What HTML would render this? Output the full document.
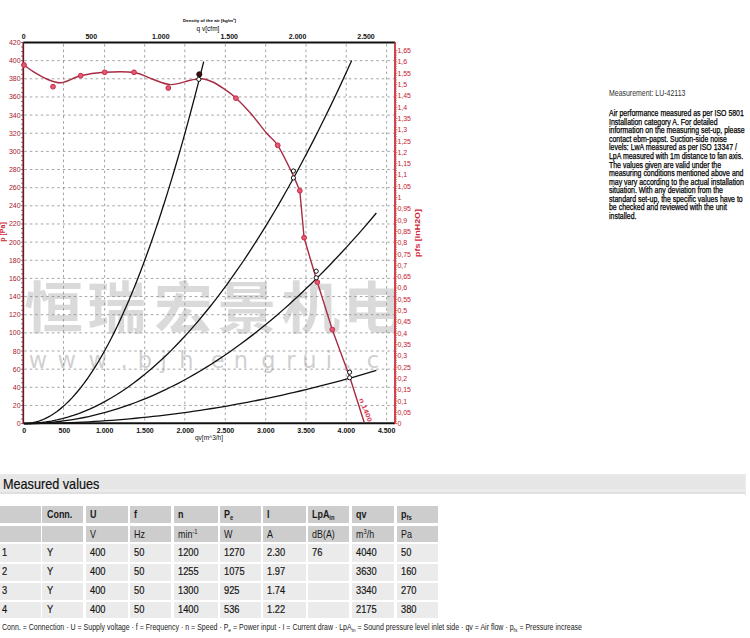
<!DOCTYPE html>
<html><head><meta charset="utf-8"><style>
html,body{margin:0;padding:0;background:#fff;}
body{width:750px;height:638px;position:relative;overflow:hidden;font-family:"Liberation Sans",Arial,sans-serif;}
svg{position:absolute;left:0;top:0;}
.rt{position:absolute;left:608.5px;top:89px;font-size:8.4px;line-height:8.52px;color:#000;-webkit-text-stroke:0.25px #000;white-space:nowrap;transform:scaleX(0.83);transform-origin:0 0;}
.rt .m{color:#333;-webkit-text-stroke:0;margin-bottom:11.9px;}
.band{position:absolute;left:0;top:474px;width:745px;height:20.4px;background:linear-gradient(#ececec 0,#e7e7e7 8%,#e6e6e6 76%,#ebebeb 77%,#ebebeb 88%,#e0e0e0 89%,#e0e0e0 100%);}
.band span{position:absolute;left:2.5px;top:1.7px;font-size:14.8px;color:#111;-webkit-text-stroke:0.2px #111;transform:scaleX(0.855);transform-origin:0 0;}
.c{position:absolute;overflow:hidden;}
.c span{position:absolute;left:4.4px;top:50%;transform:translateY(-50%) scaleX(0.86);transform-origin:0 50%;font-size:10.4px;color:#1a1a1a;white-space:nowrap;}
.c.h{background:#cdcdcd;}
.c.d{background:#ebebeb;}
.c.d span{transform:translateY(calc(-50% - 1.2px)) scaleX(0.86);-webkit-text-stroke:0.2px #111;font-size:10.8px;}
.c.b span{font-weight:bold;}
sub,sup{font-size:65%;line-height:0;}
sub{vertical-align:-2px;}
sup{vertical-align:4px;}
.ft{position:absolute;left:2px;top:621.5px;font-size:8.6px;color:#1a1a1a;white-space:nowrap;transform:scaleX(0.817);transform-origin:0 0;}
.ft sub{font-size:70%;}
</style></head><body>
<svg width="750" height="460" viewBox="0 0 750 460">
<defs><clipPath id="cp"><rect x="24" y="43" width="370.5" height="380"/></clipPath></defs>
<g clip-path="url(#cp)">
<g transform="scale(1.05,1)" fill="#c4c4c4" fill-opacity="0.62" font-family="'Liberation Sans', 'Noto Sans CJK SC', sans-serif" font-weight="700" font-size="56">
<text x="23.1" y="328.4">恒</text>
<text x="83.1" y="328.4">瑞</text>
<text x="146.6" y="328.4">宏</text>
<text x="207.1" y="328.4">景</text>
<text x="268.0" y="328.4">机</text>
<text x="326.4" y="328.4">电</text>
</g>
<text x="38 66.8 97.6 124 144.8 163.6 186.4 217.6 241 268.5 291 309.5 329 348 373" y="367.5" fill="#c4c4c4" fill-opacity="0.8" font-family="'DejaVu Sans', sans-serif" font-size="22.5" text-anchor="middle">www.bjhengrui.c</text>
</g>
<path d="M24.3,405.45H394.0 M24.3,387.30H394.0 M24.3,369.16H394.0 M24.3,351.01H394.0 M24.3,332.86H394.0 M24.3,314.71H394.0 M24.3,296.56H394.0 M24.3,278.42H394.0 M24.3,260.27H394.0 M24.3,242.12H394.0 M24.3,223.97H394.0 M24.3,205.82H394.0 M24.3,187.68H394.0 M24.3,169.53H394.0 M24.3,151.38H394.0 M24.3,133.23H394.0 M24.3,115.08H394.0 M24.3,96.94H394.0 M24.3,78.79H394.0 M24.3,60.64H394.0 M63.50,44.1V422.3 M104.60,44.1V422.3 M144.70,44.1V422.3 M184.80,44.1V422.3 M225.30,44.1V422.3 M265.70,44.1V422.3 M306.00,44.1V422.3 M346.20,44.1V422.3 M386.60,44.1V422.3" stroke="#8c8c8c" stroke-width="1" stroke-dasharray="2.5,3" fill="none" opacity="0.8"/>
<path d="M21.1,423.60h1.8 M21.1,419.06h1.8 M21.1,414.53h1.8 M21.1,409.99h1.8 M21.1,405.45h1.8 M21.1,400.92h1.8 M21.1,396.38h1.8 M21.1,391.84h1.8 M21.1,387.30h1.8 M21.1,382.77h1.8 M21.1,378.23h1.8 M21.1,373.69h1.8 M21.1,369.16h1.8 M21.1,364.62h1.8 M21.1,360.08h1.8 M21.1,355.55h1.8 M21.1,351.01h1.8 M21.1,346.47h1.8 M21.1,341.93h1.8 M21.1,337.40h1.8 M21.1,332.86h1.8 M21.1,328.32h1.8 M21.1,323.79h1.8 M21.1,319.25h1.8 M21.1,314.71h1.8 M21.1,310.18h1.8 M21.1,305.64h1.8 M21.1,301.10h1.8 M21.1,296.56h1.8 M21.1,292.03h1.8 M21.1,287.49h1.8 M21.1,282.95h1.8 M21.1,278.42h1.8 M21.1,273.88h1.8 M21.1,269.34h1.8 M21.1,264.81h1.8 M21.1,260.27h1.8 M21.1,255.73h1.8 M21.1,251.19h1.8 M21.1,246.66h1.8 M21.1,242.12h1.8 M21.1,237.58h1.8 M21.1,233.05h1.8 M21.1,228.51h1.8 M21.1,223.97h1.8 M21.1,219.44h1.8 M21.1,214.90h1.8 M21.1,210.36h1.8 M21.1,205.82h1.8 M21.1,201.29h1.8 M21.1,196.75h1.8 M21.1,192.21h1.8 M21.1,187.68h1.8 M21.1,183.14h1.8 M21.1,178.60h1.8 M21.1,174.07h1.8 M21.1,169.53h1.8 M21.1,164.99h1.8 M21.1,160.45h1.8 M21.1,155.92h1.8 M21.1,151.38h1.8 M21.1,146.84h1.8 M21.1,142.31h1.8 M21.1,137.77h1.8 M21.1,133.23h1.8 M21.1,128.70h1.8 M21.1,124.16h1.8 M21.1,119.62h1.8 M21.1,115.08h1.8 M21.1,110.55h1.8 M21.1,106.01h1.8 M21.1,101.47h1.8 M21.1,96.94h1.8 M21.1,92.40h1.8 M21.1,87.86h1.8 M21.1,83.33h1.8 M21.1,78.79h1.8 M21.1,74.25h1.8 M21.1,69.71h1.8 M21.1,65.18h1.8 M21.1,60.64h1.8 M21.1,56.10h1.8 M21.1,51.57h1.8 M21.1,47.03h1.8 M21.1,42.49h1.8" stroke="#9a2a30" stroke-width="0.8" fill="none"/>
<path d="M395.8,423.60h1.6 M395.8,421.34h1.0 M395.8,419.08h1.0 M395.8,416.82h1.0 M395.8,414.56h1.0 M395.8,412.30h1.6 M395.8,410.04h1.0 M395.8,407.78h1.0 M395.8,405.52h1.0 M395.8,403.26h1.0 M395.8,401.00h1.6 M395.8,398.74h1.0 M395.8,396.48h1.0 M395.8,394.22h1.0 M395.8,391.96h1.0 M395.8,389.70h1.6 M395.8,387.44h1.0 M395.8,385.18h1.0 M395.8,382.92h1.0 M395.8,380.66h1.0 M395.8,378.40h1.6 M395.8,376.13h1.0 M395.8,373.87h1.0 M395.8,371.61h1.0 M395.8,369.35h1.0 M395.8,367.09h1.6 M395.8,364.83h1.0 M395.8,362.57h1.0 M395.8,360.31h1.0 M395.8,358.05h1.0 M395.8,355.79h1.6 M395.8,353.53h1.0 M395.8,351.27h1.0 M395.8,349.01h1.0 M395.8,346.75h1.0 M395.8,344.49h1.6 M395.8,342.23h1.0 M395.8,339.97h1.0 M395.8,337.71h1.0 M395.8,335.45h1.0 M395.8,333.19h1.6 M395.8,330.93h1.0 M395.8,328.67h1.0 M395.8,326.41h1.0 M395.8,324.15h1.0 M395.8,321.89h1.6 M395.8,319.63h1.0 M395.8,317.37h1.0 M395.8,315.11h1.0 M395.8,312.85h1.0 M395.8,310.59h1.6 M395.8,308.33h1.0 M395.8,306.07h1.0 M395.8,303.81h1.0 M395.8,301.55h1.0 M395.8,299.29h1.6 M395.8,297.03h1.0 M395.8,294.77h1.0 M395.8,292.51h1.0 M395.8,290.25h1.0 M395.8,287.99h1.6 M395.8,285.73h1.0 M395.8,283.46h1.0 M395.8,281.20h1.0 M395.8,278.94h1.0 M395.8,276.68h1.6 M395.8,274.42h1.0 M395.8,272.16h1.0 M395.8,269.90h1.0 M395.8,267.64h1.0 M395.8,265.38h1.6 M395.8,263.12h1.0 M395.8,260.86h1.0 M395.8,258.60h1.0 M395.8,256.34h1.0 M395.8,254.08h1.6 M395.8,251.82h1.0 M395.8,249.56h1.0 M395.8,247.30h1.0 M395.8,245.04h1.0 M395.8,242.78h1.6 M395.8,240.52h1.0 M395.8,238.26h1.0 M395.8,236.00h1.0 M395.8,233.74h1.0 M395.8,231.48h1.6 M395.8,229.22h1.0 M395.8,226.96h1.0 M395.8,224.70h1.0 M395.8,222.44h1.0 M395.8,220.18h1.6 M395.8,217.92h1.0 M395.8,215.66h1.0 M395.8,213.40h1.0 M395.8,211.14h1.0 M395.8,208.88h1.6 M395.8,206.62h1.0 M395.8,204.36h1.0 M395.8,202.10h1.0 M395.8,199.84h1.0 M395.8,197.58h1.6 M395.8,195.32h1.0 M395.8,193.06h1.0 M395.8,190.80h1.0 M395.8,188.53h1.0 M395.8,186.27h1.6 M395.8,184.01h1.0 M395.8,181.75h1.0 M395.8,179.49h1.0 M395.8,177.23h1.0 M395.8,174.97h1.6 M395.8,172.71h1.0 M395.8,170.45h1.0 M395.8,168.19h1.0 M395.8,165.93h1.0 M395.8,163.67h1.6 M395.8,161.41h1.0 M395.8,159.15h1.0 M395.8,156.89h1.0 M395.8,154.63h1.0 M395.8,152.37h1.6 M395.8,150.11h1.0 M395.8,147.85h1.0 M395.8,145.59h1.0 M395.8,143.33h1.0 M395.8,141.07h1.6 M395.8,138.81h1.0 M395.8,136.55h1.0 M395.8,134.29h1.0 M395.8,132.03h1.0 M395.8,129.77h1.6 M395.8,127.51h1.0 M395.8,125.25h1.0 M395.8,122.99h1.0 M395.8,120.73h1.0 M395.8,118.47h1.6 M395.8,116.21h1.0 M395.8,113.95h1.0 M395.8,111.69h1.0 M395.8,109.43h1.0 M395.8,107.17h1.6 M395.8,104.91h1.0 M395.8,102.65h1.0 M395.8,100.39h1.0 M395.8,98.13h1.0 M395.8,95.86h1.6 M395.8,93.60h1.0 M395.8,91.34h1.0 M395.8,89.08h1.0 M395.8,86.82h1.0 M395.8,84.56h1.6 M395.8,82.30h1.0 M395.8,80.04h1.0 M395.8,77.78h1.0 M395.8,75.52h1.0 M395.8,73.26h1.6 M395.8,71.00h1.0 M395.8,68.74h1.0 M395.8,66.48h1.0 M395.8,64.22h1.0 M395.8,61.96h1.6 M395.8,59.70h1.0 M395.8,57.44h1.0 M395.8,55.18h1.0 M395.8,52.92h1.0 M395.8,50.66h1.6" stroke="#c8252e" stroke-width="0.7" fill="none"/>
<path d="M23.3,42.6H395.0" stroke="#111" stroke-width="2" fill="none"/>
<path d="M23.3,423.3H395.0" stroke="#111" stroke-width="2" fill="none"/>
<path d="M23.3,42.1V423.8" stroke="#6a1a22" stroke-width="1.7" fill="none"/>
<path d="M395.0,42.1V423.8" stroke="#c8252e" stroke-width="1.7" fill="none"/>
<g fill="#a8202c" font-family="'Liberation Sans', sans-serif" font-size="7" text-anchor="end">
<text x="20.6" y="426.10">0</text>
<text x="20.6" y="407.95">20</text>
<text x="20.6" y="389.80">40</text>
<text x="20.6" y="371.66">60</text>
<text x="20.6" y="353.51">80</text>
<text x="20.6" y="335.36">100</text>
<text x="20.6" y="317.21">120</text>
<text x="20.6" y="299.06">140</text>
<text x="20.6" y="280.92">160</text>
<text x="20.6" y="262.77">180</text>
<text x="20.6" y="244.62">200</text>
<text x="20.6" y="226.47">220</text>
<text x="20.6" y="208.32">240</text>
<text x="20.6" y="190.18">260</text>
<text x="20.6" y="172.03">280</text>
<text x="20.6" y="153.88">300</text>
<text x="20.6" y="135.73">320</text>
<text x="20.6" y="117.58">340</text>
<text x="20.6" y="99.44">360</text>
<text x="20.6" y="81.29">380</text>
<text x="20.6" y="63.14">400</text>
<text x="20.6" y="44.99">420</text>
</g>
<g fill="#c42030" font-family="'Liberation Sans', sans-serif" font-size="7">
<text x="397.4" y="426.10">0</text>
<text x="397.4" y="414.80">0,05</text>
<text x="397.4" y="403.50">0,1</text>
<text x="397.4" y="392.20">0,15</text>
<text x="397.4" y="380.90">0,2</text>
<text x="397.4" y="369.59">0,25</text>
<text x="397.4" y="358.29">0,3</text>
<text x="397.4" y="346.99">0,35</text>
<text x="397.4" y="335.69">0,4</text>
<text x="397.4" y="324.39">0,45</text>
<text x="397.4" y="313.09">0,5</text>
<text x="397.4" y="301.79">0,55</text>
<text x="397.4" y="290.49">0,6</text>
<text x="397.4" y="279.18">0,65</text>
<text x="397.4" y="267.88">0,7</text>
<text x="397.4" y="256.58">0,75</text>
<text x="397.4" y="245.28">0,8</text>
<text x="397.4" y="233.98">0,85</text>
<text x="397.4" y="222.68">0,9</text>
<text x="397.4" y="211.38">0,95</text>
<text x="397.4" y="200.08">1</text>
<text x="397.4" y="188.77">1,05</text>
<text x="397.4" y="177.47">1,1</text>
<text x="397.4" y="166.17">1,15</text>
<text x="397.4" y="154.87">1,2</text>
<text x="397.4" y="143.57">1,25</text>
<text x="397.4" y="132.27">1,3</text>
<text x="397.4" y="120.97">1,35</text>
<text x="397.4" y="109.67">1,4</text>
<text x="397.4" y="98.36">1,45</text>
<text x="397.4" y="87.06">1,5</text>
<text x="397.4" y="75.76">1,55</text>
<text x="397.4" y="64.46">1,6</text>
<text x="397.4" y="53.16">1,65</text>
</g>
<g fill="#111" font-family="'Liberation Sans', sans-serif" font-size="7" font-weight="bold" text-anchor="middle">
<text x="23.60" y="39.2">0</text>
<text x="91.30" y="39.2">500</text>
<text x="160.80" y="39.2">1.000</text>
<text x="229.20" y="39.2">1.500</text>
<text x="297.60" y="39.2">2.000</text>
<text x="366.00" y="39.2">2.500</text>
</g>
<text x="209.5" y="21.6" fill="#000" font-family="'Liberation Sans', sans-serif" font-size="4.2" font-weight="bold" text-anchor="middle" textLength="53" lengthAdjust="spacingAndGlyphs">Density of the air [kg/m³]</text>
<text x="208" y="30.6" fill="#000" font-family="'Liberation Sans', sans-serif" font-size="6.5" text-anchor="middle">q v[cfm]</text>
<g fill="#111" font-family="'Liberation Sans', sans-serif" font-size="7" font-weight="bold" text-anchor="middle">
<text x="24.10" y="432.8">0</text>
<text x="64.39" y="432.8">500</text>
<text x="104.67" y="432.8">1.000</text>
<text x="144.96" y="432.8">1.500</text>
<text x="185.24" y="432.8">2.000</text>
<text x="225.53" y="432.8">2.500</text>
<text x="265.81" y="432.8">3.000</text>
<text x="306.10" y="432.8">3.500</text>
<text x="346.38" y="432.8">4.000</text>
<text x="386.67" y="432.8">4.500</text>
</g>
<text x="209" y="440.2" fill="#111" font-family="'Liberation Sans', sans-serif" font-size="6.5" text-anchor="middle">qv[m^3/h]</text>
<text transform="translate(5.4,232) rotate(-90)" fill="#d02838" font-family="'Liberation Sans', sans-serif" font-size="7" font-weight="bold" text-anchor="middle">p [Pa]</text>
<text transform="translate(420.2,233) rotate(-90)" fill="#d02838" font-family="'Liberation Sans', sans-serif" font-size="7.2" font-weight="bold" text-anchor="middle" textLength="48" lengthAdjust="spacingAndGlyphs">pfs [inH2O]</text>
<path d="M24.10,423.60 L27.09,423.50 L30.09,423.20 L33.08,422.69 L36.07,421.99 L39.07,421.09 L42.06,419.98 L45.05,418.67 L48.05,417.16 L51.04,415.45 L54.03,413.54 L57.02,411.43 L60.02,409.12 L63.01,406.61 L66.00,403.89 L69.00,400.97 L71.99,397.86 L74.98,394.54 L77.98,391.02 L80.97,387.30 L83.96,383.38 L86.96,379.25 L89.95,374.93 L92.94,370.40 L95.94,365.68 L98.93,360.75 L101.92,355.62 L104.92,350.29 L107.91,344.76 L110.90,339.03 L113.90,333.09 L116.89,326.96 L119.88,320.62 L122.87,314.09 L125.87,307.35 L128.86,300.41 L131.85,293.27 L134.85,285.93 L137.84,278.39 L140.83,270.65 L143.83,262.70 L146.82,254.56 L149.81,246.21 L152.81,237.66 L155.80,228.91 L158.79,219.96 L161.79,210.81 L164.78,201.46 L167.77,191.91 L170.77,182.15 L173.76,172.20 L176.75,162.04 L179.75,151.68 L182.74,141.12 L185.73,130.36 L188.72,119.40 L191.72,108.24 L194.71,96.88 L197.70,85.31 L200.70,73.55 L203.69,61.58" stroke="#111" stroke-width="1.3" fill="none"/>
<path d="M24.10,423.60 L29.56,423.50 L35.02,423.20 L40.48,422.69 L45.94,421.99 L51.40,421.08 L56.86,419.97 L62.32,418.66 L67.78,417.15 L73.24,415.43 L78.70,413.52 L84.16,411.40 L89.62,409.08 L95.08,406.56 L100.54,403.83 L106.00,400.91 L111.46,397.78 L116.92,394.46 L122.38,390.93 L127.84,387.20 L133.30,383.26 L138.76,379.13 L144.22,374.79 L149.68,370.25 L155.14,365.51 L160.60,360.57 L166.06,355.43 L171.52,350.09 L176.98,344.54 L182.44,338.79 L187.90,332.84 L193.36,326.69 L198.82,320.34 L204.28,313.78 L209.74,307.03 L215.20,300.07 L220.66,292.91 L226.12,285.55 L231.58,277.98 L237.04,270.22 L242.50,262.25 L247.96,254.08 L253.42,245.71 L258.88,237.14 L264.34,228.37 L269.80,219.39 L275.26,210.22 L280.72,200.84 L286.18,191.26 L291.64,181.48 L297.10,171.49 L302.56,161.31 L308.02,150.92 L313.48,140.33 L318.94,129.54 L324.40,118.55 L329.86,107.36 L335.32,95.96 L340.78,84.36 L346.24,72.57 L351.70,60.56" stroke="#111" stroke-width="1.3" fill="none"/>
<path d="M24.10,423.60 L29.97,423.54 L35.84,423.37 L41.71,423.07 L47.58,422.66 L53.45,422.14 L59.33,421.49 L65.20,420.73 L71.07,419.86 L76.94,418.86 L82.81,417.75 L88.68,416.52 L94.55,415.18 L100.42,413.72 L106.29,412.14 L112.16,410.44 L118.03,408.63 L123.90,406.70 L129.78,404.65 L135.65,402.49 L141.52,400.20 L147.39,397.81 L153.26,395.29 L159.13,392.66 L165.00,389.91 L170.87,387.04 L176.74,384.06 L182.61,380.96 L188.48,377.74 L194.36,374.41 L200.23,370.96 L206.10,367.39 L211.97,363.71 L217.84,359.91 L223.71,355.99 L229.58,351.95 L235.45,347.80 L241.32,343.53 L247.19,339.14 L253.06,334.64 L258.93,330.02 L264.81,325.28 L270.68,320.43 L276.55,315.45 L282.42,310.37 L288.29,305.16 L294.16,299.84 L300.03,294.40 L305.90,288.84 L311.77,283.17 L317.64,277.38 L323.51,271.47 L329.39,265.45 L335.26,259.30 L341.13,253.05 L347.00,246.67 L352.87,240.18 L358.74,233.57 L364.61,226.84 L370.48,220.00 L376.35,213.04" stroke="#111" stroke-width="1.3" fill="none"/>
<path d="M24.10,423.60 L29.97,423.59 L35.84,423.54 L41.71,423.47 L47.58,423.36 L53.45,423.23 L59.33,423.07 L65.20,422.88 L71.07,422.66 L76.94,422.40 L82.81,422.12 L88.68,421.81 L94.55,421.47 L100.42,421.11 L106.29,420.71 L112.16,420.28 L118.03,419.82 L123.90,419.34 L129.78,418.82 L135.65,418.27 L141.52,417.70 L147.39,417.09 L153.26,416.46 L159.13,415.79 L165.00,415.10 L170.87,414.38 L176.74,413.62 L182.61,412.84 L188.48,412.03 L194.36,411.19 L200.23,410.32 L206.10,409.42 L211.97,408.49 L217.84,407.53 L223.71,406.54 L229.58,405.52 L235.45,404.47 L241.32,403.40 L247.19,402.29 L253.06,401.15 L258.93,399.99 L264.81,398.79 L270.68,397.57 L276.55,396.31 L282.42,395.03 L288.29,393.72 L294.16,392.37 L300.03,391.00 L305.90,389.60 L311.77,388.17 L317.64,386.71 L323.51,385.22 L329.39,383.70 L335.26,382.15 L341.13,380.57 L347.00,378.96 L352.87,377.32 L358.74,375.65 L364.61,373.96 L370.48,372.23 L376.35,370.47" stroke="#111" stroke-width="1.3" fill="none"/>
<path d="M24.00,65.00 C25.55,66.12 29.52,69.37 33.30,71.70 C37.08,74.03 42.03,77.17 46.70,79.00 C51.37,80.83 55.63,83.25 61.30,82.70 C66.97,82.15 73.58,77.43 80.70,75.70 C87.82,73.97 95.12,72.83 104.00,72.30 C112.88,71.77 126.00,71.38 134.00,72.50 C142.00,73.62 145.88,76.98 152.00,79.00 C158.12,81.02 164.25,84.40 170.70,84.60 C177.15,84.80 185.48,81.17 190.70,80.20 C195.92,79.23 198.33,78.50 202.00,78.80 C205.67,79.10 209.15,80.40 212.70,82.00 C216.25,83.60 219.40,85.70 223.30,88.40 C227.20,91.10 231.40,93.88 236.10,98.20 C240.80,102.52 246.45,108.50 251.50,114.30 C256.55,120.10 262.03,127.83 266.40,133.00 C270.77,138.17 273.45,138.70 277.70,145.30 C281.95,151.90 288.22,165.03 291.90,172.60 C295.58,180.17 298.48,187.68 299.80,190.70 L304.10,237.70 L310.70,260.20 L317.30,282.00 L332.20,329.40 L350.00,377.70 L364.30,422.70" stroke="#a82c44" stroke-width="1.4" fill="none" stroke-linejoin="round"/>
<circle cx="24.0" cy="65.0" r="2.4" fill="#e45a70" stroke="#c42c46" stroke-width="1"/>
<circle cx="53.0" cy="86.7" r="2.4" fill="#e45a70" stroke="#c42c46" stroke-width="1"/>
<circle cx="80.7" cy="75.7" r="2.4" fill="#e45a70" stroke="#c42c46" stroke-width="1"/>
<circle cx="104.7" cy="72.3" r="2.4" fill="#e45a70" stroke="#c42c46" stroke-width="1"/>
<circle cx="134.0" cy="72.3" r="2.4" fill="#e45a70" stroke="#c42c46" stroke-width="1"/>
<circle cx="168.3" cy="88.0" r="2.4" fill="#e45a70" stroke="#c42c46" stroke-width="1"/>
<circle cx="235.9" cy="98.2" r="2.4" fill="#e45a70" stroke="#c42c46" stroke-width="1"/>
<circle cx="277.7" cy="145.3" r="2.4" fill="#e45a70" stroke="#c42c46" stroke-width="1"/>
<circle cx="299.8" cy="190.7" r="2.4" fill="#e45a70" stroke="#c42c46" stroke-width="1"/>
<circle cx="304.1" cy="237.7" r="2.4" fill="#e45a70" stroke="#c42c46" stroke-width="1"/>
<circle cx="317.3" cy="282.2" r="2.4" fill="#e45a70" stroke="#c42c46" stroke-width="1"/>
<circle cx="332.3" cy="329.6" r="2.4" fill="#e45a70" stroke="#c42c46" stroke-width="1"/>
<circle cx="199.3" cy="74.3" r="2.6" fill="#3a1014" stroke="#200" stroke-width="0.8"/>
<circle cx="198.8" cy="79.3" r="2.1" fill="#fff" stroke="#111" stroke-width="1"/>
<circle cx="293.4" cy="171.0" r="2.1" fill="#fff" stroke="#111" stroke-width="1"/>
<circle cx="293.4" cy="177.9" r="2.1" fill="#fff" stroke="#111" stroke-width="1"/>
<circle cx="316.2" cy="271.2" r="2.1" fill="#fff" stroke="#111" stroke-width="1"/>
<circle cx="316.2" cy="277.8" r="2.1" fill="#fff" stroke="#111" stroke-width="1"/>
<circle cx="349.6" cy="372.2" r="2.1" fill="#fff" stroke="#111" stroke-width="1"/>
<circle cx="349.6" cy="377.7" r="2.1" fill="#fff" stroke="#111" stroke-width="1"/>
<text transform="translate(363.6,410.8) rotate(68)" fill="#d83850" font-family="'Liberation Sans', sans-serif" font-size="6.5" font-weight="bold" text-anchor="middle" textLength="25" lengthAdjust="spacingAndGlyphs">n 1400</text>
</svg>
<div class="rt"><div class="m">Measurement: LU-42113</div>Air performance measured as per ISO 5801<br>Installation category A. For detailed<br>information on the measuring set-up, please<br>contact ebm-papst. Suction-side noise<br>levels: LwA measured as per ISO 13347 /<br>LpA measured with 1m distance to fan axis.<br>The values given are valid under the<br>measuring conditions mentioned above and<br>may vary according to the actual installation<br>situation. With any deviation from the<br>standard set-up, the specific values have to<br>be checked and reviewed with the unit<br>installed.</div>
<div class="band"><span>Measured values</span></div>
<div style="position:absolute;left:745px;top:473px;width:1px;height:23px;background:#ececec"></div>
<div class="c h b" style="left:-2.0px;top:505.7px;width:42.6px;height:17.3px"><span></span></div>
<div class="c h b" style="left:42.4px;top:505.7px;width:40.6px;height:17.3px"><span>Conn.</span></div>
<div class="c h b" style="left:85.6px;top:505.7px;width:42.4px;height:17.3px"><span>U</span></div>
<div class="c h b" style="left:130.0px;top:505.7px;width:41.0px;height:17.3px"><span>f</span></div>
<div class="c h b" style="left:174.0px;top:505.7px;width:43.6px;height:17.3px"><span>n</span></div>
<div class="c h b" style="left:220.0px;top:505.7px;width:41.0px;height:17.3px"><span>P<sub>e</sub></span></div>
<div class="c h b" style="left:263.0px;top:505.7px;width:42.6px;height:17.3px"><span>I</span></div>
<div class="c h b" style="left:308.0px;top:505.7px;width:41.0px;height:17.3px"><span>LpA<sub>in</sub></span></div>
<div class="c h b" style="left:352.0px;top:505.7px;width:42.0px;height:17.3px"><span>qv</span></div>
<div class="c h b" style="left:397.0px;top:505.7px;width:41.0px;height:17.3px"><span>p<sub>fs</sub></span></div>
<div class="c h" style="left:-2.0px;top:526.0px;width:42.6px;height:15.7px"><span></span></div>
<div class="c h" style="left:42.4px;top:526.0px;width:40.6px;height:15.7px"><span></span></div>
<div class="c h" style="left:85.6px;top:526.0px;width:42.4px;height:15.7px"><span>V</span></div>
<div class="c h" style="left:130.0px;top:526.0px;width:41.0px;height:15.7px"><span>Hz</span></div>
<div class="c h" style="left:174.0px;top:526.0px;width:43.6px;height:15.7px"><span>min<sup>-1</sup></span></div>
<div class="c h" style="left:220.0px;top:526.0px;width:41.0px;height:15.7px"><span>W</span></div>
<div class="c h" style="left:263.0px;top:526.0px;width:42.6px;height:15.7px"><span>A</span></div>
<div class="c h" style="left:308.0px;top:526.0px;width:41.0px;height:15.7px"><span>dB(A)</span></div>
<div class="c h" style="left:352.0px;top:526.0px;width:42.0px;height:15.7px"><span>m<sup>3</sup>/h</span></div>
<div class="c h" style="left:397.0px;top:526.0px;width:41.0px;height:15.7px"><span>Pa</span></div>
<div class="c d" style="left:-2.0px;top:543.5px;width:42.6px;height:18.0px"><span>1</span></div>
<div class="c d" style="left:42.4px;top:543.5px;width:40.6px;height:18.0px"><span>Y</span></div>
<div class="c d" style="left:85.6px;top:543.5px;width:42.4px;height:18.0px"><span>400</span></div>
<div class="c d" style="left:130.0px;top:543.5px;width:41.0px;height:18.0px"><span>50</span></div>
<div class="c d" style="left:174.0px;top:543.5px;width:43.6px;height:18.0px"><span>1200</span></div>
<div class="c d" style="left:220.0px;top:543.5px;width:41.0px;height:18.0px"><span>1270</span></div>
<div class="c d" style="left:263.0px;top:543.5px;width:42.6px;height:18.0px"><span>2.30</span></div>
<div class="c d" style="left:308.0px;top:543.5px;width:41.0px;height:18.0px"><span>76</span></div>
<div class="c d" style="left:352.0px;top:543.5px;width:42.0px;height:18.0px"><span>4040</span></div>
<div class="c d" style="left:397.0px;top:543.5px;width:41.0px;height:18.0px"><span>50</span></div>
<div class="c d" style="left:-2.0px;top:563.5px;width:42.6px;height:17.2px"><span>2</span></div>
<div class="c d" style="left:42.4px;top:563.5px;width:40.6px;height:17.2px"><span>Y</span></div>
<div class="c d" style="left:85.6px;top:563.5px;width:42.4px;height:17.2px"><span>400</span></div>
<div class="c d" style="left:130.0px;top:563.5px;width:41.0px;height:17.2px"><span>50</span></div>
<div class="c d" style="left:174.0px;top:563.5px;width:43.6px;height:17.2px"><span>1255</span></div>
<div class="c d" style="left:220.0px;top:563.5px;width:41.0px;height:17.2px"><span>1075</span></div>
<div class="c d" style="left:263.0px;top:563.5px;width:42.6px;height:17.2px"><span>1.97</span></div>
<div class="c d" style="left:308.0px;top:563.5px;width:41.0px;height:17.2px"><span></span></div>
<div class="c d" style="left:352.0px;top:563.5px;width:42.0px;height:17.2px"><span>3630</span></div>
<div class="c d" style="left:397.0px;top:563.5px;width:41.0px;height:17.2px"><span>160</span></div>
<div class="c d" style="left:-2.0px;top:582.6px;width:42.6px;height:17.4px"><span>3</span></div>
<div class="c d" style="left:42.4px;top:582.6px;width:40.6px;height:17.4px"><span>Y</span></div>
<div class="c d" style="left:85.6px;top:582.6px;width:42.4px;height:17.4px"><span>400</span></div>
<div class="c d" style="left:130.0px;top:582.6px;width:41.0px;height:17.4px"><span>50</span></div>
<div class="c d" style="left:174.0px;top:582.6px;width:43.6px;height:17.4px"><span>1300</span></div>
<div class="c d" style="left:220.0px;top:582.6px;width:41.0px;height:17.4px"><span>925</span></div>
<div class="c d" style="left:263.0px;top:582.6px;width:42.6px;height:17.4px"><span>1.74</span></div>
<div class="c d" style="left:308.0px;top:582.6px;width:41.0px;height:17.4px"><span></span></div>
<div class="c d" style="left:352.0px;top:582.6px;width:42.0px;height:17.4px"><span>3340</span></div>
<div class="c d" style="left:397.0px;top:582.6px;width:41.0px;height:17.4px"><span>270</span></div>
<div class="c d" style="left:-2.0px;top:602.2px;width:42.6px;height:15.6px"><span>4</span></div>
<div class="c d" style="left:42.4px;top:602.2px;width:40.6px;height:15.6px"><span>Y</span></div>
<div class="c d" style="left:85.6px;top:602.2px;width:42.4px;height:15.6px"><span>400</span></div>
<div class="c d" style="left:130.0px;top:602.2px;width:41.0px;height:15.6px"><span>50</span></div>
<div class="c d" style="left:174.0px;top:602.2px;width:43.6px;height:15.6px"><span>1400</span></div>
<div class="c d" style="left:220.0px;top:602.2px;width:41.0px;height:15.6px"><span>536</span></div>
<div class="c d" style="left:263.0px;top:602.2px;width:42.6px;height:15.6px"><span>1.22</span></div>
<div class="c d" style="left:308.0px;top:602.2px;width:41.0px;height:15.6px"><span></span></div>
<div class="c d" style="left:352.0px;top:602.2px;width:42.0px;height:15.6px"><span>2175</span></div>
<div class="c d" style="left:397.0px;top:602.2px;width:41.0px;height:15.6px"><span>380</span></div>
<div class="ft">Conn. = Connection · U = Supply voltage · f = Frequency · n = Speed · P<sub>e</sub> = Power input · I = Current draw · LpA<sub>in</sub> = Sound pressure level inlet side · qv = Air flow · p<sub>fs</sub> = Pressure increase</div>
</body></html>
